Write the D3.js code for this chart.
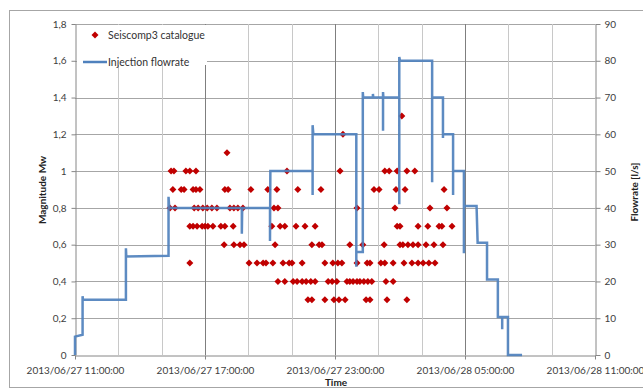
<!DOCTYPE html>
<html>
<head>
<meta charset="utf-8">
<script src="https://cdn.jsdelivr.net/npm/d3@7"></script>
<style>
  html, body { margin: 0; padding: 0; background: #fff; }
  svg { display: block; font-family: Lato, "Open Sans", sans-serif; }
</style>
</head>
<body>
<svg id="chart" width="643" height="389"></svg>
<script>
// Seismic events of the injection night, grouped by magnitude (Mw).
// Clock times at or after 11:00 fall on 2013/06/27, earlier ones on 2013/06/28.
const magnitudeLevels = [1.3, 1.2, 1.1, 1.0, 0.9, 0.8, 0.7, 0.6, 0.5, 0.4, 0.3];
const eventClockTimes = [
  ["02:05"],
  ["23:22"],
  ["18:01"],
  ["15:26", "15:34", "16:07", "16:18", "16:35", "20:47", "23:14", "01:18", "01:30", "01:52", "02:19", "02:41"],
  ["15:31", "15:54", "16:02", "16:27", "16:35", "16:46", "17:55", "18:04", "19:07", "19:54", "20:19", "21:17",
   "22:21", "00:48", "01:02", "01:49", "02:14", "04:02"],
  ["15:23", "15:37", "16:30", "16:41", "16:54", "17:06", "17:19", "17:33", "18:09", "18:20", "18:31", "18:45",
   "20:11", "20:22", "00:01", "01:46", "03:23", "04:10"],
  ["16:18", "16:27", "16:38", "16:52", "17:00", "17:08", "17:22", "17:44", "17:55", "18:18", "20:05", "20:28",
   "20:41", "21:12", "21:37", "22:05", "01:52", "02:00", "02:50", "03:17", "03:48", "03:56", "04:24"],
  ["17:53", "18:20", "18:37", "18:48", "20:14", "21:56", "22:16", "22:24", "23:41", "00:17", "01:16", "02:00",
   "02:08", "02:22", "02:36", "02:50", "03:12", "03:34", "03:59"],
  ["16:18", "19:02", "19:24", "19:41", "19:49", "20:08", "20:36", "20:53", "21:01", "21:29", "22:32", "22:54",
   "23:08", "23:19", "00:01", "00:29", "00:37", "01:07", "01:18", "01:41", "02:11", "02:33", "02:50", "03:04",
   "03:20", "03:37"],
  ["20:22", "20:41", "21:04", "21:15", "21:29", "21:40", "21:53", "22:05", "22:41", "22:52", "23:05", "23:33",
   "23:41", "23:50", "00:01", "00:09", "00:20", "00:31", "00:42", "01:21", "01:41"],
  ["21:45", "21:56", "22:32", "22:57", "23:11", "23:28", "00:26", "00:37", "01:24", "02:19"]
];

// Injection flowrate record (l/s); repeated times are the switching transients.
const flowClock = [
  "11:00", "11:00", "11:21", "11:21", "11:22", "13:21", "13:21", "13:22", "15:19", "15:19", "15:21",
  "18:42", "18:42", "18:43", "20:00", "20:00", "20:01", "21:58", "21:58", "21:58", "22:00",
  "23:59", "23:59", "23:59", "00:17", "00:17", "00:18", "00:45", "00:45", "00:46",
  "01:13", "01:13", "01:13", "01:14", "01:58", "01:58", "01:58", "02:00",
  "03:29", "03:29", "03:29", "03:59", "03:59", "03:59", "04:27", "04:27", "04:27",
  "04:57", "04:57", "04:57", "05:32", "05:35", "06:01", "06:01", "06:31", "06:31",
  "06:43", "06:43", "06:43", "06:59", "06:59", "07:38"
];
const flowRate = [
  0, 5, 5.5, 16, 15, 15, 29, 26.8, 27, 43, 40,
  40, 33, 40, 40, 31, 50, 50, 43.5, 62.5, 60,
  60, 24, 28, 28, 71.5, 70, 70, 71, 70,
  70, 61, 71.5, 70, 70, 41, 81, 80,
  80, 47, 70, 70, 59, 60, 60, 43.5, 50,
  50, 27.7, 40.5, 40.5, 30.5, 30.5, 20.5, 20.5, 10.3,
  10.3, 7, 10.3, 10.3, 0, 0
];

const magnitudeTicks = [0, 0.2, 0.4, 0.6, 0.8, 1.0, 1.2, 1.4, 1.6, 1.8];
const flowTicks = [0, 10, 20, 30, 40, 50, 60, 70, 80, 90];
const legendLabels = ["Seiscomp3 catalogue", "Injection flowrate"];

function clockToDate(s) {
  const [h, m] = s.split(":").map(Number);
  return new Date(2013, 5, h >= 11 ? 27 : 28, h, m);
}

const svg = d3.select("#chart");
const plot = { left: 75, right: 595, top: 24, bottom: 355 };
const start = new Date(2013, 5, 27, 11);

const x = d3.scaleTime()
  .domain([start, d3.timeHour.offset(start, 24)])
  .range([plot.left, plot.right]);
const yMag = d3.scaleLinear().domain([0, 1.8]).range([plot.bottom, plot.top]);
const yFlow = d3.scaleLinear().domain([0, 90]).range([plot.bottom, plot.top]);

// outer chart frame
svg.append("rect")
  .attr("x", 9.5).attr("y", 10.5).attr("width", 640).attr("height", 377)
  .attr("fill", "#fff").attr("stroke", "#a6a6a6");

// gridlines: every 0.2 Mw, and every 2 hours (darker at the labelled 6-hour marks)
const grid = svg.append("g");
grid.selectAll("line.h").data(magnitudeTicks.slice(1)).join("line")
  .attr("x1", plot.left).attr("x2", plot.right)
  .attr("y1", d => Math.round(yMag(d)) + 0.5).attr("y2", d => Math.round(yMag(d)) + 0.5)
  .attr("stroke", "#a6a6a6");
const gridSteps = d3.range(1, 12);
grid.selectAll("line.v").data(gridSteps).join("line")
  .attr("x1", i => Math.round(x(d3.timeHour.offset(start, 2 * i))) + 0.5)
  .attr("x2", i => Math.round(x(d3.timeHour.offset(start, 2 * i))) + 0.5)
  .attr("y1", plot.top).attr("y2", plot.bottom)
  .attr("stroke", i => (i % 3 === 0) ? "#7f7f7f" : "#c8c8c8");

// axes
const fmtMag = d => String(+d.toFixed(1)).replace(".", ",");
const xTicks = d3.range(5).map(i => d3.timeHour.offset(start, 6 * i));

const axisColor = "#868686";
const gx = svg.append("g").attr("transform", `translate(0,${plot.bottom + 0.5})`)
  .call(d3.axisBottom(x).tickValues(xTicks).tickFormat(d3.timeFormat("%Y/%m/%d %H:%M:%S"))
    .tickSize(4).tickSizeOuter(0).tickPadding(7));
const gl = svg.append("g").attr("transform", `translate(${plot.left + 0.5},0)`)
  .call(d3.axisLeft(yMag).tickValues(magnitudeTicks).tickFormat(fmtMag).tickSize(4).tickSizeOuter(0).tickPadding(5));
const gr = svg.append("g").attr("transform", `translate(${plot.right + 0.5},0)`)
  .call(d3.axisRight(yFlow).tickValues(flowTicks).tickSize(5).tickSizeOuter(0).tickPadding(4));
[gx, gl, gr].forEach(g => {
  g.selectAll("path, line").attr("stroke", axisColor);
  g.selectAll("text").attr("fill", "#404040").style("font-size", "10px")
    .style("font-family", "Lato, sans-serif");
});

// axis titles
svg.append("text").attr("x", 336).attr("y", 386).attr("text-anchor", "middle")
  .style("font-size", "10px").style("font-weight", "bold").attr("fill", "#222").text("Time");
svg.append("text").attr("transform", "translate(46,190) rotate(-90)").attr("text-anchor", "middle")
  .style("font-size", "10px").style("font-weight", "bold").attr("fill", "#222").text("Magnitude Mw");
svg.append("text").attr("transform", "translate(638,192) rotate(-90)").attr("text-anchor", "middle")
  .style("font-size", "10px").style("font-weight", "bold").attr("fill", "#222").text("Flowrate [l/s]");

// seismic events, drawn as square diamonds
const events = magnitudeLevels.flatMap((m, i) => eventClockTimes[i].map(t => ({ t: clockToDate(t), m })));
const r = 3.5;
const diamond = `M0,${-r}L${r},0L0,${r}L${-r},0Z`;
svg.append("g").selectAll("path").data(events).join("path")
  .attr("d", diamond)
  .attr("transform", d => `translate(${x(d.t)},${yMag(d.m)})`)
  .attr("fill", "#c00000");

// flowrate line
const flow = flowClock.map((t, i) => ({ t: clockToDate(t), v: flowRate[i] }));
svg.append("path").datum(flow)
  .attr("d", d3.line().x(d => x(d.t)).y(d => yFlow(d.v)))
  .attr("fill", "none").attr("stroke", "#4f81bd").attr("stroke-width", 2.5)
  .attr("stroke-opacity", 0.92).attr("stroke-linejoin", "miter");

// legend
const lg = svg.append("g");
lg.append("rect").attr("x", 77).attr("y", 25).attr("width", 130).attr("height", 40).attr("fill", "#fff");
lg.append("path").attr("d", diamond).attr("transform", "translate(95,35)").attr("fill", "#c00000");
lg.append("line").attr("x1", 83).attr("x2", 107).attr("y1", 62).attr("y2", 62)
  .attr("stroke", "#4f81bd").attr("stroke-width", 2.5);
lg.selectAll("text").data(legendLabels).join("text")
  .attr("x", 108).attr("y", (d, i) => i === 0 ? 38.5 : 65.5)
  .style("font-size", "10.5px").attr("fill", "#333").text(d => d);
</script>
</body>
</html>
